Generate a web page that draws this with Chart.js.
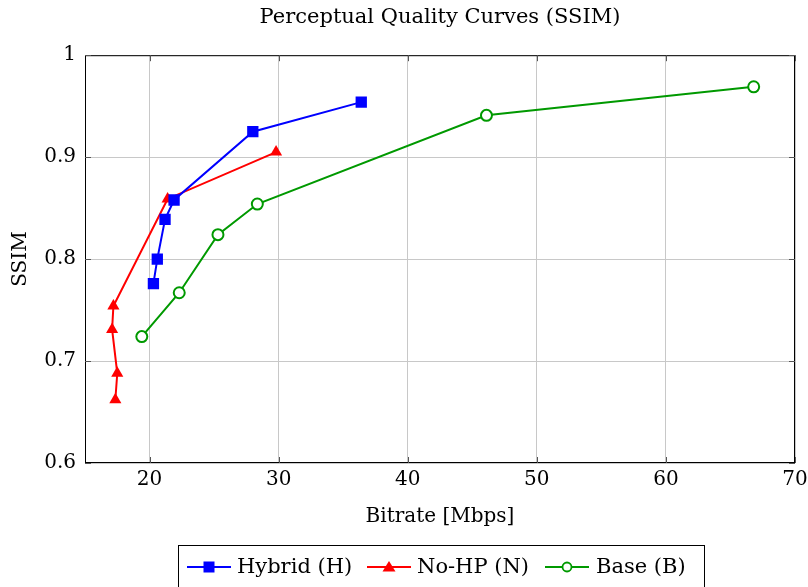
<!DOCTYPE html>
<html>
<head>
<meta charset="utf-8">
<script src="https://cdn.jsdelivr.net/npm/chart.js@4/dist/chart.umd.min.js"></script>
<style>
  html, body { margin: 0; padding: 0; background: #fff; }
  #wrap { position: relative; width: 808px; height: 587px; }
  #legend {
    position: absolute; left: 178px; top: 545px; width: 525px; height: 50px;
    border: 1px solid #000; font-family: 'DejaVu Serif', serif; font-size: 21px; color: #000;
  }
  #legend span.item { position: absolute; top: 8px; white-space: nowrap; line-height: 25px; }
  #legend canvas { position: absolute; top: 13px; }
</style>
</head>
<body>
<div id="wrap">
  <canvas id="chart"></canvas>
  <div id="legend"></div>
</div>
<script>
// values
const hybridBitrate = [20.3, 20.6, 21.2, 21.9, 28.0, 36.4];
const hybridSsim    = [0.776, 0.800, 0.839, 0.858, 0.925, 0.954];

const nohpBitrate = [17.35, 17.5, 17.1, 17.2, 21.4, 29.8];
const nohpSsim    = [0.662, 0.688, 0.731, 0.754, 0.859, 0.905];

const baseBitrate = [19.4, 22.3, 25.3, 28.35, 46.1, 66.8];
const baseSsim    = [0.724, 0.767, 0.824, 0.854, 0.941, 0.969];

const seriesNames = ['Hybrid (H)', 'No-HP (N)', 'Base (B)'];

const xTicks = [20, 30, 40, 50, 60, 70];
const yTicks = [0.6, 0.7, 0.8, 0.9, 1];

const FONT = "'DejaVu Serif', serif";
const BLUE = '#0000ff';
const RED = '#ff0000';
const GREEN = 'rgb(0,153,0)';

function pts(xs, ys) {
    return xs.map((x, i) => ({ x: x, y: ys[i] }));
}

// legend sample: line with the marker on top
function legendIcon(color, style) {
    const c = document.createElement('canvas');
    c.width = 46; c.height = 16;
    const ctx = c.getContext('2d');
    ctx.strokeStyle = color;
    ctx.lineWidth = 2;
    ctx.beginPath();
    ctx.moveTo(1, 8); ctx.lineTo(45, 8);
    ctx.stroke();
    ctx.fillStyle = color;
    if (style === 'rect') {
        ctx.fillRect(17.5, 2.5, 11, 11);
    } else if (style === 'triangle') {
        ctx.beginPath();
        ctx.moveTo(23, 2); ctx.lineTo(29.5, 12.5); ctx.lineTo(16.5, 12.5);
        ctx.closePath(); ctx.fill();
    } else {
        ctx.fillStyle = '#fff';
        ctx.lineWidth = 1.8;
        ctx.beginPath();
        ctx.arc(23, 8, 4.5, 0, Math.PI * 2);
        ctx.fill(); ctx.stroke();
    }
    return c;
}

// html legend, laid out like the pgfplots one
const legendEl = document.getElementById('legend');
const iconX = [7, 187, 365];
const textX = [58, 238, 417];
[[BLUE, 'rect'], [RED, 'triangle'], [GREEN, 'circle']].forEach((s, i) => {
    const ic = legendIcon(s[0], s[1]);
    ic.style.left = iconX[i] + 'px';
    legendEl.appendChild(ic);
    const t = document.createElement('span');
    t.className = 'item';
    t.style.left = textX[i] + 'px';
    t.textContent = seriesNames[i];
    legendEl.appendChild(t);
});

const frame = {
    id: 'frame',
    afterDatasetsDraw(chart) {
        const { ctx, chartArea: a, scales } = chart;
        ctx.save();
        ctx.strokeStyle = '#000';
        ctx.lineWidth = 1;
        ctx.strokeRect(a.left + 0.5, a.top + 0.5, a.right - a.left - 1, a.bottom - a.top - 1);
        // inward tick marks
        ctx.strokeStyle = '#555';
        ctx.beginPath();
        xTicks.forEach(v => {
            const x = Math.round(scales.x.getPixelForValue(v)) + 0.5;
            ctx.moveTo(x, a.bottom); ctx.lineTo(x, a.bottom - 6);
            ctx.moveTo(x, a.top); ctx.lineTo(x, a.top + 6);
        });
        yTicks.forEach(v => {
            const y = Math.round(scales.y.getPixelForValue(v)) + 0.5;
            ctx.moveTo(a.left, y); ctx.lineTo(a.left + 6, y);
            ctx.moveTo(a.right, y); ctx.lineTo(a.right - 6, y);
        });
        ctx.stroke();
        ctx.restore();
    }
};

new Chart(document.getElementById('chart'), {
    type: 'scatter',
    data: {
        datasets: [
            {
                label: seriesNames[0],
                data: pts(hybridBitrate, hybridSsim),
                borderColor: BLUE,
                backgroundColor: BLUE,
                pointStyle: 'rect',
                pointRadius: 8,
                pointBorderWidth: 0,
                borderWidth: 2,
                showLine: true
            },
            {
                label: seriesNames[1],
                data: pts(nohpBitrate, nohpSsim),
                borderColor: RED,
                backgroundColor: RED,
                pointStyle: 'triangle',
                pointRadius: 7,
                pointBorderWidth: 0,
                borderWidth: 2,
                showLine: true
            },
            {
                label: seriesNames[2],
                data: pts(baseBitrate, baseSsim),
                borderColor: GREEN,
                backgroundColor: GREEN,
                pointBackgroundColor: '#fff',
                pointStyle: 'circle',
                pointRadius: 5.5,
                pointBorderWidth: 2,
                borderWidth: 2,
                showLine: true
            }
        ]
    },
    options: {
        responsive: true,
        maintainAspectRatio: false,
        animation: false,
        layout: { padding: { left: 0, right: 13, top: 0, bottom: 0 } },
        plugins: {
            title: {
                display: true,
                fullSize: false,
                text: 'Perceptual Quality Curves (SSIM)',
                color: '#000',
                font: { family: FONT, size: 21, weight: 'normal' },
                padding: { top: 5, bottom: 25 }
            },
            legend: { display: false },
            tooltip: { enabled: false }
        },
        scales: {
            x: {
                type: 'linear',
                min: 15,
                max: 70,
                afterBuildTicks(scale) {
                    scale.ticks = xTicks.map(v => ({ value: v }));
                },
                afterFit(scale) {
                    scale.height = 124;
                    scale.paddingLeft = 0;
                    scale.paddingRight = 0;
                },
                grid: { color: '#c8c8c8', lineWidth: 1, drawTicks: false },
                border: { display: false },
                ticks: {
                    color: '#000',
                    padding: 5,
                    font: { family: FONT, size: 20 },
                    maxRotation: 0
                },
                title: {
                    display: true,
                    text: 'Bitrate [Mbps]',
                    color: '#000',
                    font: { family: FONT, size: 20 },
                    padding: { top: 0, bottom: 58 }
                }
            },
            y: {
                min: 0.6,
                max: 1,
                afterBuildTicks(scale) {
                    scale.ticks = yTicks.map(v => ({ value: v }));
                },
                afterFit(scale) {
                    scale.width = 85;
                },
                grid: { color: '#c8c8c8', lineWidth: 1, drawTicks: false },
                border: { display: false },
                ticks: {
                    color: '#000',
                    padding: 9,
                    font: { family: FONT, size: 20 },
                    callback: v => String(Math.round(v * 10) / 10)
                },
                title: {
                    display: true,
                    text: 'SSIM',
                    color: '#000',
                    font: { family: FONT, size: 20 },
                    padding: { top: 9, bottom: 0 }
                }
            }
        }
    },
    plugins: [frame]
});
</script>
</body>
</html>
